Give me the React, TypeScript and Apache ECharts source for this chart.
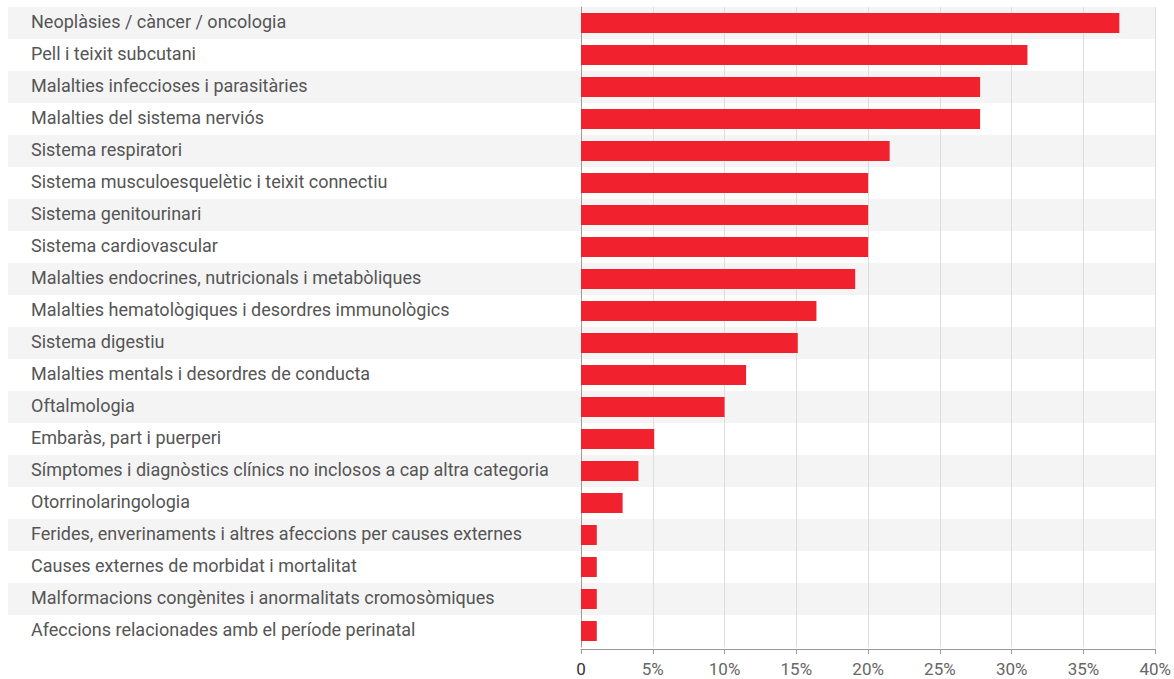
import React, { useEffect, useRef } from "react";
import * as echarts from "echarts";

const categories = [
  "Neoplàsies / càncer / oncologia",
  "Pell i teixit subcutani",
  "Malalties infeccioses i parasitàries",
  "Malalties del sistema nerviós",
  "Sistema respiratori",
  "Sistema musculoesquelètic i teixit connectiu",
  "Sistema genitourinari",
  "Sistema cardiovascular",
  "Malalties endocrines, nutricionals i metabòliques",
  "Malalties hematològiques i desordres immunològics",
  "Sistema digestiu",
  "Malalties mentals i desordres de conducta",
  "Oftalmologia",
  "Embaràs, part i puerperi",
  "Símptomes i diagnòstics clínics no inclosos a cap altra categoria",
  "Otorrinolaringologia",
  "Ferides, enverinaments i altres afeccions per causes externes",
  "Causes externes de morbidat i mortalitat",
  "Malformacions congènites i anormalitats cromosòmiques",
  "Afeccions relacionades amb el període perinatal",
];

const values = [
  37.5, 31.1, 27.8, 27.8, 21.5, 20.0, 20.0, 20.0, 19.1, 16.4, 15.1, 11.5,
  10.0, 5.1, 4.0, 2.9, 1.1, 1.1, 1.1, 1.1,
];

const xTicks = { min: 0, max: 40, interval: 5 };

export default function App() {
  const ref = useRef<HTMLDivElement>(null);
  useEffect(() => {
    if (!ref.current) return;
    const chart = echarts.init(ref.current, undefined, { renderer: "svg" });
    chart.setOption({
      animation: false,
      textStyle: { fontFamily: "Roboto" },
      grid: [
        { left: 581, right: 18, top: 7, bottom: 32 },
        { left: 8, right: 18, top: 7, bottom: 32 },
      ],
      xAxis: [
        {
          type: "value",
          gridIndex: 0,
          min: xTicks.min,
          max: xTicks.max,
          interval: xTicks.interval,
          offset: 2,
          axisLine: { show: true, lineStyle: { color: "#999", width: 1 } },
          axisTick: { show: true, length: 5, lineStyle: { color: "#999" } },
          splitLine: { show: true, lineStyle: { color: "#ddd", width: 1 } },
          axisLabel: {
            margin: 11,
            fontSize: 17,
            fontFamily: "Roboto",
            formatter: (v: number) => (v === 0 ? "{z|0}" : "{p|" + v + "%}"),
            rich: {
              z: { color: "#333", fontSize: 17, fontFamily: "Roboto" },
              p: { color: "#666", fontSize: 17, fontFamily: "Roboto" },
            },
          },
        },
        {
          type: "value",
          gridIndex: 1,
          show: false,
          min: 0,
          max: 1,
        },
      ],
      yAxis: [
        {
          type: "category",
          gridIndex: 0,
          data: categories,
          inverse: true,
          axisLine: { show: true, lineStyle: { color: "#999", width: 1 } },
          axisTick: { show: false },
          axisLabel: {
            align: "left",
            margin: 550,
            fontSize: 18,
            color: "#555",
            fontFamily: "Roboto",
            formatter: (v: string) => "{a|" + v + "}",
            rich: {
              a: {
                fontSize: 18,
                color: "#555",
                fontFamily: "Roboto",
                padding: [0, 0, 4, 0],
              },
            },
          },
          z: 3,
        },
        {
          type: "category",
          gridIndex: 1,
          data: categories,
          inverse: true,
          axisLine: { show: false },
          axisTick: { show: false },
          axisLabel: { show: false },
          splitArea: {
            show: true,
            areaStyle: { color: ["#f4f4f4", "#ffffff"] },
          },
          z: 0,
        },
      ],
      series: [
        {
          type: "bar",
          xAxisIndex: 0,
          yAxisIndex: 0,
          data: values,
          barWidth: 20,
          itemStyle: { color: "#F2212E" },
          z: 5,
        },
      ],
    });
    return () => chart.dispose();
  }, []);
  return (
    <div
      ref={ref}
      style={{ position: "absolute", left: 0, top: 0, width: 1174, height: 679 }}
    />
  );
}
